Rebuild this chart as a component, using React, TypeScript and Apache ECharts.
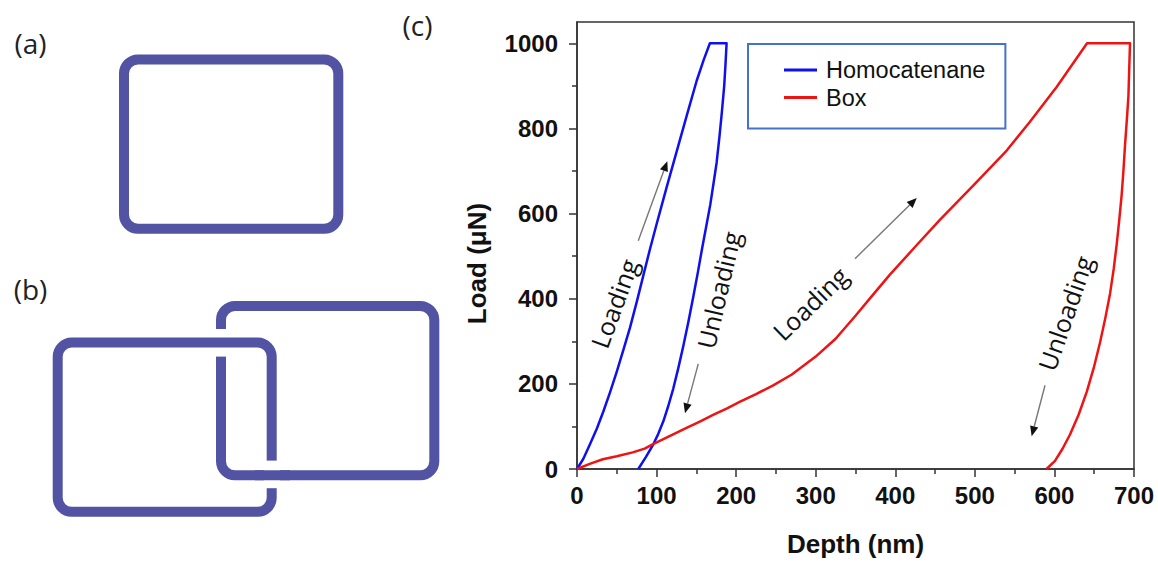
import React, { useEffect, useRef } from "react";
import * as echarts from "echarts";

// ---- axis ticks ----
const depthTicks = [0, 100, 200, 300, 400, 500, 600, 700];
const loadTicks = [0, 200, 400, 600, 800, 1000];
const loadMinorTicks = [100, 300, 500, 700, 900];

// ---- Homocatenane (depth nm, load µN) ----
const homoLoading = [
  [0, 0], [8, 24], [16.3, 58], [25, 95], [33.1, 135], [41.5, 180], [49.9, 228], [58, 278],
  [66.6, 332], [75, 392], [83, 452], [91.5, 515], [100, 575], [112.7, 662], [125.3, 746],
  [137.9, 830], [150.4, 912], [159, 960], [167, 1000],
];
const homoHold = [[188, 1000]];
const homoUnloading = [
  [186.6, 950], [185, 900], [182, 837], [179, 780], [175.5, 720], [171.5, 670], [167.5, 621],
  [162.5, 571], [157.5, 521], [152, 463], [146.2, 405], [140, 346], [133.6, 289], [127.3, 237],
  [121, 189], [114.7, 148], [108.5, 112], [102, 82], [95.9, 58], [86.5, 28], [77, 0],
];

// ---- Box ----
const boxLoading = [
  [0, 0], [16, 12], [32.5, 23], [50, 30], [70, 39], [85, 48], [95, 58], [115, 76], [137, 96],
  [155, 112], [171, 127], [188, 142], [205, 158], [225, 176], [246, 196], [270, 222], [300, 264],
  [325, 306], [350, 360], [370, 405], [393, 456], [425, 522], [456, 585], [500, 670], [540, 748],
  [569, 815], [603, 898], [641, 1000],
];
const boxHold = [[695, 1000]];
const boxUnloading = [
  [694, 940], [693, 876], [691, 820], [688.7, 760], [686.7, 700], [684.5, 644],
  [681.5, 586], [678.3, 528], [674.5, 470], [670, 413], [664, 355], [657.3, 297], [649.5, 238],
  [640.6, 181], [630.5, 128], [619.6, 81], [610, 47], [600.7, 19], [590, 0],
];

const seriesNames = ["Homocatenane", "Box"];

// ---- annotations (data units) ----
const annotationTexts = [
  { text: "Loading", at: [46.5, 389], angle: 70 },
  { text: "Unloading", at: [177.6, 420.6], angle: 77 },
  { text: "Loading", at: [292.8, 389.6], angle: 44 },
  { text: "Unloading", at: [613.3, 366.4], angle: 71 },
];
const annotationArrows = [
  { from: [77, 536], to: [113.5, 723] },
  { from: [152.4, 247], to: [135.7, 131] },
  { from: [349.4, 494], to: [427, 636.6] },
  { from: [588.2, 196.8], to: [571.4, 77] },
];

const BLUE = "#1010EE";
const RED = "#EE1414";
const PANEL = "#5254A3";

export default function App() {
  const ref = useRef<HTMLDivElement>(null);
  useEffect(() => {
    document.body.style.margin = "0";
    const el = ref.current!;
    const chart = echarts.init(el, null, { renderer: "svg" });
    const labelFont = { fontFamily: "Liberation Sans", fontWeight: "bold" as const, fontSize: 24, color: "#111" };
    const fmt = (v: number) => String(v);
    const option: any = {
      animation: false,
      backgroundColor: "#fff",
      grid: { left: 577, right: 24, top: 22, bottom: 87, show: true, borderColor: "#333", borderWidth: 1.5, backgroundColor: "transparent" },
      legend: {
        orient: "vertical",
        left: 748,
        top: 44,
        padding: [14, 20, 19, 36],
        itemGap: 3.6,
        itemWidth: 33,
        itemHeight: 3,
        icon: "rect",
        borderColor: "#4472C4",
        borderWidth: 2,
        backgroundColor: "#fff",
        data: seriesNames,
        textStyle: { fontFamily: "Liberation Sans", fontSize: 23.5, color: "#111", padding: [0, 0, 0, 4] },
      },
      xAxis: {
        type: "value",
        min: depthTicks[0],
        max: depthTicks[depthTicks.length - 1],
        interval: 100,
        name: "Depth (nm)",
        nameLocation: "middle",
        nameGap: 62,
        nameTextStyle: { ...labelFont, fontSize: 26 },
        axisLine: { show: true, lineStyle: { color: "#333", width: 1.5 } },
        axisTick: { show: true, length: 8, lineStyle: { color: "#333", width: 1.5 } },
        minorTick: { show: true, splitNumber: 2, length: 5, lineStyle: { color: "#333", width: 1.5 } },
        axisLabel: { ...labelFont, margin: 14, formatter: fmt },
        splitLine: { show: false },
      },
      yAxis: [
        {
          type: "value",
          min: 0,
          max: 1050,
          name: "Load (μN)",
          nameLocation: "middle",
          nameGap: 87,
          nameTextStyle: { ...labelFont, fontSize: 26, padding: [0, 36, 0, 0] },
          axisLine: { show: true, lineStyle: { color: "#333", width: 1.5 } },
          axisTick: { show: true, length: 8, customValues: loadTicks, lineStyle: { color: "#333", width: 1.5 } },
          axisLabel: { ...labelFont, margin: 19, customValues: loadTicks, formatter: fmt },
          splitLine: { show: false },
        },
        {
          type: "value",
          min: 0,
          max: 1050,
          position: "left",
          axisLine: { show: false },
          axisTick: { show: true, length: 5, customValues: loadMinorTicks, lineStyle: { color: "#333", width: 1.5 } },
          axisLabel: { show: false },
          splitLine: { show: false },
        },
      ],
      series: [
        {
          name: seriesNames[0],
          type: "line",
          showSymbol: false,
          smooth: false,
          data: [...homoLoading, ...homoHold, ...homoUnloading],
          lineStyle: { color: BLUE, width: 2.5, join: "round" },
          itemStyle: { color: BLUE },
        },
        {
          name: seriesNames[1],
          type: "line",
          showSymbol: false,
          smooth: false,
          data: [...boxLoading, ...boxHold, ...boxUnloading],
          lineStyle: { color: RED, width: 2.5, join: "round" },
          itemStyle: { color: RED },
        },
      ],
    };
    chart.setOption(option);

    const toPx = (p: number[]) => chart.convertToPixel({ xAxisIndex: 0, yAxisIndex: 0 }, p) as number[];
    const graphics: any[] = [];

    // panel labels
    const panelLabel = (t: string, x: number, y: number) => ({
      type: "text",
      x,
      y,
      style: { text: t, fontFamily: "Open Sans", fontSize: 28, fill: "#222", align: "center", verticalAlign: "middle" },
    });
    graphics.push(panelLabel("(a)", 30.5, 43));
    graphics.push(panelLabel("(b)", 30.5, 288.5));
    graphics.push(panelLabel("(c)", 417.5, 25));

    const ringStyle = { fill: "none", stroke: PANEL, lineWidth: 10 };
    // (a)
    graphics.push({ type: "rect", shape: { x: 124, y: 59.5, width: 214.3, height: 169.2, r: 14 }, style: ringStyle });
    // (b) right ring
    graphics.push({ type: "rect", shape: { x: 221, y: 306, width: 213.3, height: 169.3, r: 14 }, style: ringStyle });
    graphics.push({ type: "rect", shape: { x: 213, y: 329, width: 16, height: 27.6 }, style: { fill: "#fff" } });
    // (b) left ring
    graphics.push({ type: "rect", shape: { x: 57.7, y: 342.6, width: 214, height: 169.2, r: 14 }, style: ringStyle });
    graphics.push({ type: "rect", shape: { x: 264, y: 460.6, width: 16, height: 27.6 }, style: { fill: "#fff" } });
    graphics.push({ type: "line", shape: { x1: 255, y1: 475.3, x2: 290, y2: 475.3 }, style: { stroke: PANEL, lineWidth: 10 } });

    // annotations
    annotationTexts.forEach((a) => {
      const p = toPx(a.at);
      graphics.push({
        type: "text",
        x: p[0],
        y: p[1],
        rotation: (a.angle * Math.PI) / 180,
        z: 100,
        style: { text: a.text, fontFamily: "Open Sans", fontSize: 25, fill: "#111", align: "center", verticalAlign: "middle" },
      });
    });
    annotationArrows.forEach((a) => {
      const p0 = toPx(a.from);
      const p1 = toPx(a.to);
      const dx = p1[0] - p0[0];
      const dy = p1[1] - p0[1];
      const len = Math.sqrt(dx * dx + dy * dy);
      const ux = dx / len;
      const uy = dy / len;
      const hl = 10;
      const hw = 4.2;
      const bx = p1[0] - ux * hl;
      const by = p1[1] - uy * hl;
      graphics.push({
        type: "line",
        z: 100,
        shape: { x1: p0[0], y1: p0[1], x2: bx, y2: by },
        style: { stroke: "#777", lineWidth: 1.4 },
      });
      graphics.push({
        type: "polygon",
        z: 100,
        shape: { points: [[p1[0], p1[1]], [bx - uy * hw, by + ux * hw], [bx + uy * hw, by - ux * hw]] },
        style: { fill: "#111" },
      });
    });

    chart.setOption({ graphic: graphics });
    return () => chart.dispose();
  }, []);
  return <div ref={ref} style={{ width: 1158, height: 562 }} />;
}
